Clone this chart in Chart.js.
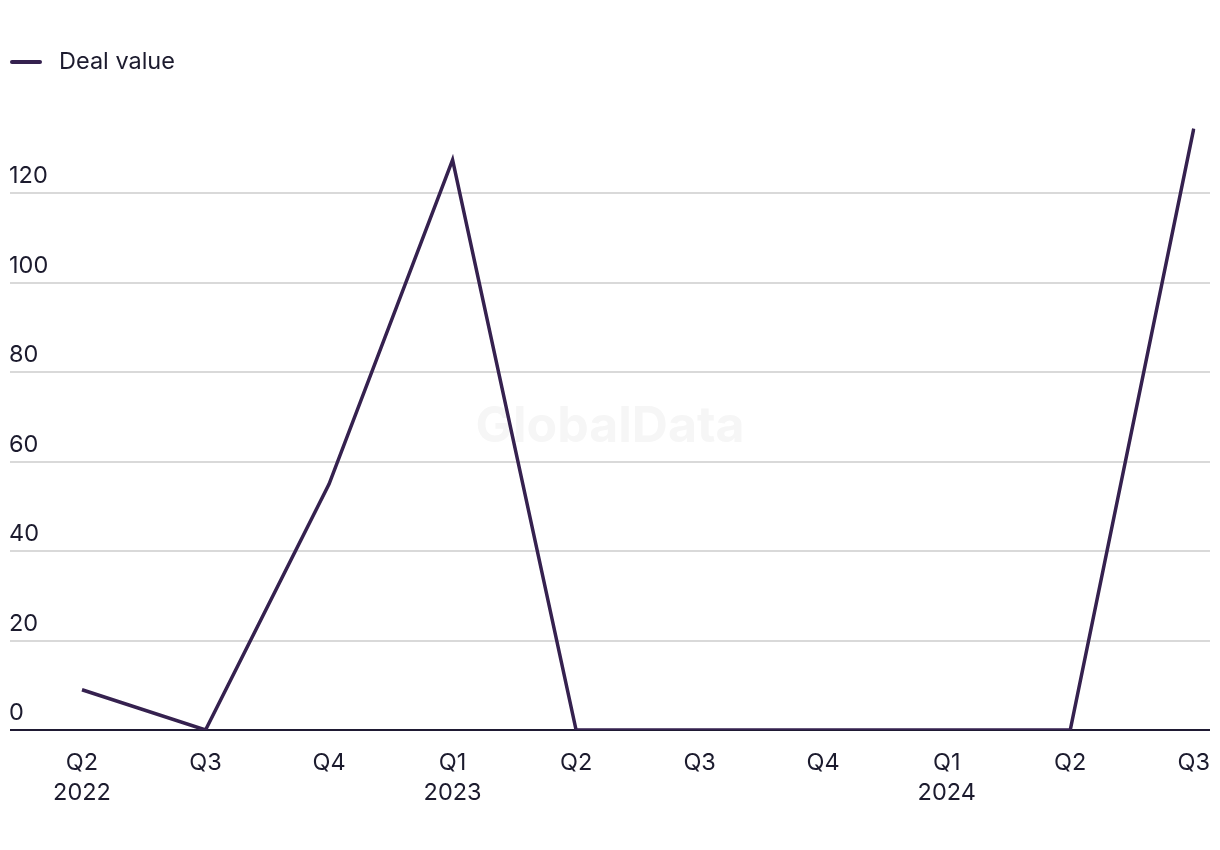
<!DOCTYPE html>
<html>
<head>
<meta charset="utf-8">
<script src="https://cdn.jsdelivr.net/npm/chart.js@4"></script>
<style>
  html, body { margin: 0; padding: 0; background: #fff; }
  #wrap { width: 1220px; height: 850px; }
</style>
</head>
<body>
<div id="wrap"><canvas id="chartContainer" width="1220" height="850"></canvas></div>
<script>
const quarters = [['Q2', '2022'], 'Q3', 'Q4', ['Q1', '2023'], 'Q2', 'Q3', 'Q4', ['Q1', '2024'], 'Q2', 'Q3'];
const dealValue = [9, 0, 55, 127.5, 0, 0, 0, 0, 0, 134.5];
const yTicks = [0, 20, 40, 60, 80, 100, 120];
const seriesName = 'Deal value';

const FONT = 'Inter, "Liberation Sans", sans-serif';
const TEXT = '#1c1b2e';
const LINE = '#35214f';

// gridlines, y labels, legend and watermark drawn across the full width
const decor = {
  id: 'decor',
  beforeDatasetsDraw(chart) {
    const c = chart.ctx, y = chart.scales.y;
    c.save();
    // watermark
    c.font = 'bold 50px ' + FONT;
    c.fillStyle = '#f6f6f6';
    c.textAlign = 'center';
    c.textBaseline = 'middle';
    c.fillText('GlobalData', 610, 427);
    // grid + labels
    c.textAlign = 'left';
    c.textBaseline = 'alphabetic';
    c.font = '23.5px ' + FONT;
    yTicks.forEach(v => {
      const py = Math.round(y.getPixelForValue(v));
      c.strokeStyle = v === 0 ? '#1f1a33' : '#d9d9d9';
      c.lineWidth = 2;
      c.beginPath();
      c.moveTo(10, py);
      c.lineTo(1210, py);
      c.stroke();
      c.fillStyle = TEXT;
      c.fillText(String(v), 9, py - 10);
    });
    // legend
    c.strokeStyle = LINE;
    c.lineWidth = 4;
    c.lineCap = 'round';
    c.beginPath();
    c.moveTo(12, 62);
    c.lineTo(40, 62);
    c.stroke();
    c.fillStyle = TEXT;
    c.textBaseline = 'middle';
    c.fillText(seriesName, 59, 62);
    c.restore();
  }
};

const ctx = document.getElementById('chartContainer').getContext('2d');
new Chart(ctx, {
  type: 'line',
  data: {
    labels: quarters,
    datasets: [{
      label: seriesName,
      data: dealValue,
      borderColor: LINE,
      borderWidth: 3.5,
      pointRadius: 0,
      tension: 0,
      fill: false
    }]
  },
  options: {
    responsive: false,
    animation: false,
    layout: { padding: { left: 82, right: 22, top: 104, bottom: 0 } },
    plugins: { legend: { display: false }, tooltip: { enabled: false } },
    scales: {
      x: {
        offset: false,
        grid: { display: false },
        border: { display: false },
        ticks: { color: TEXT, font: { family: FONT, size: 23.5, lineHeight: 1.28 }, padding: 10, maxRotation: 0, autoSkip: false },
        afterFit(s) { s.height = 120; }
      },
      y: {
        display: false,
        min: 0,
        max: 140
      }
    }
  },
  plugins: [decor]
});
</script>
</body>
</html>
